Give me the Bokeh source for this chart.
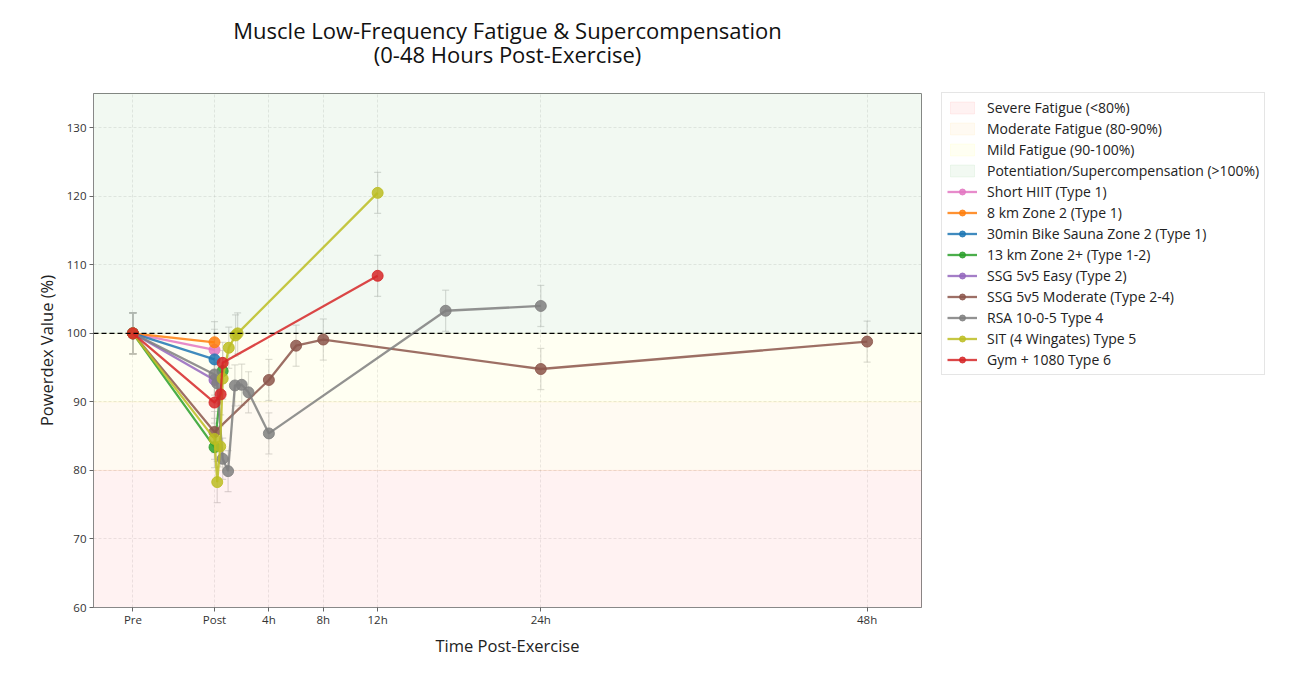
from bokeh.plotting import figure
from bokeh.models import (ColumnDataSource, Whisker, TeeHead, Span, Legend, LegendItem,
                          FixedTicker, Title)
from bokeh.embed import file_html
from bokeh.resources import INLINE

FONT = "Open Sans"

# ---------------- data ----------------
tick_positions = [-6, 0, 4, 8, 12, 24, 48]
tick_labels = ["Pre", "Post", "4h", "8h", "12h", "24h", "48h"]
y_ticks = [60, 70, 80, 90, 100, 110, 120, 130]

band_labels = ["Severe Fatigue (<80%)", "Moderate Fatigue (80-90%)",
               "Mild Fatigue (90-100%)", "Potentiation/Supercompensation (>100%)"]
band_bottoms = [60, 80, 90, 100]
band_tops = [80, 90, 100, 135]
band_colors = ["red", "orange", "yellow", "green"]

series_names = ["Short HIIT (Type 1)", "8 km Zone 2 (Type 1)", "30min Bike Sauna Zone 2 (Type 1)",
                "13 km Zone 2+ (Type 1-2)", "SSG 5v5 Easy (Type 2)", "SSG 5v5 Moderate (Type 2-4)",
                "RSA 10-0-5 Type 4", "SIT (4 Wingates) Type 5", "Gym + 1080 Type 6"]
series_colors = ["#e377c2", "#ff7f0e", "#1f77b4", "#2ca02c", "#9467bd", "#8c564b",
                 "#7f7f7f", "#bcbd22", "#d62728"]

short_hiit_t = [-6, 0]
short_hiit_v = [100, 97.6]
km8_t = [-6, 0]
km8_v = [100, 98.7]
bike_t = [-6, 0]
bike_v = [100, 96.2]
km13_t = [-6, 0, 0.6]
km13_v = [100, 83.4, 94.5]
ssg_easy_t = [-6, 0]
ssg_easy_v = [100, 93.2]
ssg_mod_t = [-6, 0, 4, 6, 8, 24, 48]
ssg_mod_v = [100, 85.6, 93.2, 98.2, 99.1, 94.8, 98.8]
rsa_t = [-6, 0, 0.2, 0.6, 1.0, 1.5, 2.0, 2.5, 4, 17, 24]
rsa_v = [100, 94.0, 92.7, 81.7, 79.9, 92.4, 92.5, 91.4, 85.4, 103.3, 104.0]
sit_t = [-6, 0, 0.2, 0.42, 0.6, 1.05, 1.55, 1.7, 12]
sit_v = [100, 84.6, 78.3, 83.5, 93.4, 97.9, 99.7, 100.0, 120.5]
gym_t = [-6, 0, 0.45, 0.6, 12]
gym_v = [100, 89.9, 91.1, 95.7, 108.4]

error_sd = 3.0

series_t = [short_hiit_t, km8_t, bike_t, km13_t, ssg_easy_t, ssg_mod_t, rsa_t, sit_t, gym_t]
series_v = [short_hiit_v, km8_v, bike_v, km13_v, ssg_easy_v, ssg_mod_v, rsa_v, sit_v, gym_v]

# ---------------- figure ----------------
p = figure(frame_width=828, frame_height=514, x_range=(-8.9, 52), y_range=(60, 135),
           output_backend="svg", toolbar_location=None,
           min_border_left=93, min_border_right=350, min_border_top=93, min_border_bottom=60)
p.background_fill_color = "white"
p.border_fill_color = "white"
p.outline_line_color = "#888888"
p.outline_line_width = 1

sub = Title(text="(0-48 Hours Post-Exercise)", align="center", text_font=FONT,
            text_font_size="22px", text_font_style="normal", text_color="#111111", standoff=50)
main = Title(text="Muscle Low-Frequency Fatigue & Supercompensation", align="center", text_font=FONT,
             text_font_size="22px", text_font_style="normal", text_color="#111111", standoff=-66)
p.add_layout(sub, "above")
p.add_layout(main, "above")

# bands
band_items = []
for i in range(len(band_labels)):
    r = p.quad(left=-100, right=200, bottom=band_bottoms[i], top=band_tops[i],
               fill_color=band_colors[i], fill_alpha=0.05, line_color=band_colors[i], line_alpha=0.06)
    band_items.append(LegendItem(label=band_labels[i], renderers=[r]))

# grid / axes
p.xaxis.ticker = FixedTicker(ticks=tick_positions)
p.xaxis.major_label_overrides = {t: l for t, l in zip(tick_positions, tick_labels)}
p.yaxis.ticker = FixedTicker(ticks=y_ticks)
for ax in (p.xaxis, p.yaxis):
    ax.axis_line_color = "#888888"
    ax.major_tick_line_color = "#666666"
    ax.minor_tick_line_color = None
    ax.major_tick_out = 4
    ax.major_tick_in = 0
    ax.major_label_text_font = FONT
    ax.major_label_text_font_size = "11.5px"
    ax.major_label_text_color = "#333333"
    ax.axis_label_text_font = FONT
    ax.axis_label_text_font_size = "16.5px"
    ax.axis_label_text_font_style = "normal"
    ax.axis_label_text_color = "#222222"
p.xaxis.major_label_standoff = 0
p.yaxis.major_label_standoff = 3
p.xaxis.axis_label = "Time Post-Exercise"
p.yaxis.axis_label = "Powerdex Value (%)"
p.xaxis.axis_label_standoff = 4
p.yaxis.axis_label_standoff = 6
p.grid.grid_line_color = "#bbbbbb"
p.grid.grid_line_alpha = 0.3
p.grid.grid_line_dash = "3 2"

p.add_layout(Span(location=100, dimension="width", line_color="black",
                  line_dash="5 3", line_width=1.3))

# series
series_items = []
for name, col, ts, vs in zip(series_names, series_colors, series_t, series_v):
    src = ColumnDataSource(dict(x=ts, y=vs, upper=[v + error_sd for v in vs],
                                lower=[v - error_sd for v in vs]))
    w = Whisker(source=src, base="x", upper="upper", lower="lower",
                line_color="#bbbbbb", line_alpha=0.5, line_width=1.2,
                upper_head=TeeHead(size=7, line_color="#bbbbbb", line_alpha=0.5, line_width=1.2),
                lower_head=TeeHead(size=7, line_color="#bbbbbb", line_alpha=0.5, line_width=1.2))
    p.add_layout(w)
for name, col, ts, vs in zip(series_names, series_colors, series_t, series_v):
    src = ColumnDataSource(dict(x=ts, y=vs))
    lr = p.line("x", "y", source=src, line_color=col, line_width=2.3, line_alpha=0.85)
    sr = p.scatter("x", "y", source=src, size=11, fill_color=col, line_color=col,
                   fill_alpha=0.85, line_alpha=0.85)
    series_items.append(LegendItem(label=name, renderers=[lr, sr]))

legend = Legend(items=band_items + series_items, location=(20, 232),
                label_text_font=FONT, label_text_font_size="14px", label_text_color="#222222",
                label_height=15, glyph_height=15, glyph_width=30, spacing=2, padding=5,
                margin=0, border_line_color="#cccccc", border_line_width=1,
                background_fill_color="white", background_fill_alpha=1.0, label_standoff=10)
p.add_layout(legend, "right")

open("out.html", "w").write(file_html(p, INLINE))
